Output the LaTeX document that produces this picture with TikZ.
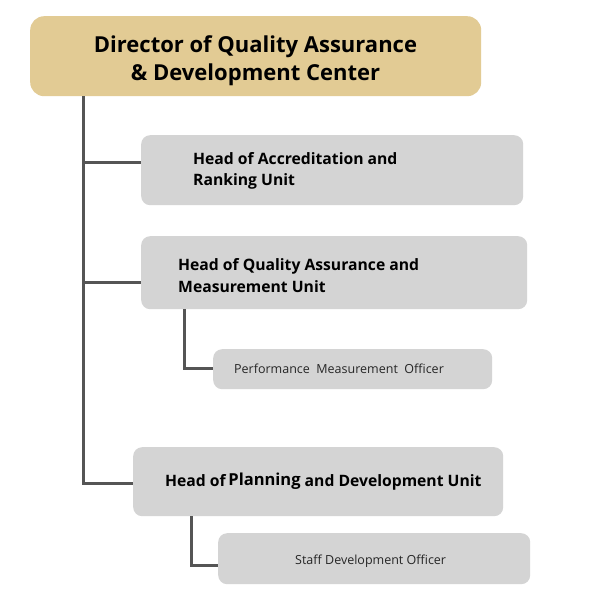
\documentclass[tikz,border=0pt]{standalone}
\usepackage{fontspec}
\setmainfont{Open Sans}
\definecolor{tan}{RGB}{226,203,148}
\definecolor{boxgray}{RGB}{212,212,212}
\definecolor{linegray}{RGB}{85,85,85}
\tikzset{
  box/.style={fill=boxgray, rounded corners=9pt, inner sep=0pt, anchor=north west},
  topbox/.style={fill=tan, rounded corners=14pt, inner sep=0pt, anchor=north west},
  toptxt/.style={align=center, inner sep=0pt, font=\bfseries\fontsize{22}{28}\selectfont},
  conn/.style={draw=linegray, line width=3pt},
  headtxt/.style={font=\bfseries\fontsize{15.7}{21.5}\selectfont, align=left, inner sep=0pt, anchor=west},
  offtxt/.style={font=\fontsize{12.5}{15}\selectfont, inner sep=0pt, anchor=west, text=black!85},
}
\begin{document}
\begin{tikzpicture}[x=1pt,y=-1pt]
\useasboundingbox[fill=white] (0,0) rectangle (600,600);
% boxes
\node[topbox, minimum width=451pt, minimum height=80pt] (top) at (30,16) {};
\node[toptxt] (tt) at (255.5,61) {Director of Quality Assurance\\\& Development Center};
\node[box, minimum width=382pt, minimum height=70pt] (b1) at (141,135) {};
\node[box, minimum width=386pt, minimum height=73pt] (b2) at (141,236) {};
\node[box, minimum width=279pt, minimum height=40pt] (b3) at (213,349) {};
\node[box, minimum width=370pt, minimum height=69pt] (b4) at (133,447) {};
\node[box, minimum width=312pt, minimum height=51pt] (b5) at (218,533) {};
% texts
\node[headtxt] (t1) at (193,171) {Head of Accreditation and\\Ranking Unit};
\node[headtxt] (t2) at (178,275.5) {Head of Quality Assurance and\\Measurement Unit};
\node[offtxt] (t3) at (234,368.5) {Performance~ Measurement~ Officer};
\node[headtxt] (t4) at (165,482) {Head of\,{\fontsize{16.5}{20}\selectfont\raisebox{0.8pt}{Planning}} and Development Unit};
\node[offtxt] (t5) at (295,561) {Staff Development Officer};
% connectors
\coordinate (trunk) at (83,483);
\coordinate (j1) at (83,162);
\coordinate (j2) at (83,282);
\draw[conn] (top.south -| trunk) -- (trunk) -- (trunk -| b4.west);
\draw[conn] (j1) -- (j1 -| b1.west);
\draw[conn] (j2) -- (j2 -| b2.west);
\coordinate (k1) at (184,368);
\draw[conn] (k1 |- b2.south) -- (k1) -- (k1 -| b3.west);
\coordinate (k2) at (191,565);
\draw[conn] (k2 |- b4.south) -- (k2) -- (k2 -| b5.west);
\end{tikzpicture}
\end{document}
